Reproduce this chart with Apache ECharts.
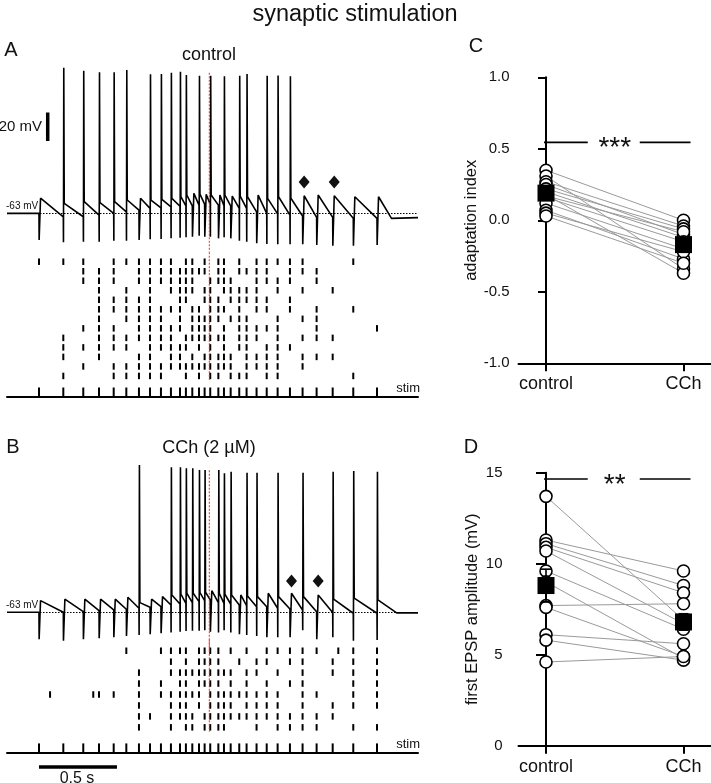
<!DOCTYPE html>
<html><head><meta charset="utf-8">
<script src="https://cdn.jsdelivr.net/npm/echarts@6/dist/echarts.min.js"></script>
<style>html,body{margin:0;padding:0;background:#fff}#c{width:711px;height:783px}</style>
</head><body><div id="c"></div>
<script>
// ---------- data ----------
const stimTimes = [0,156,284,385,479,560,641,712,782,846,904,942,983,1026,1062,1098,1150,1186,1229,1284,1331,1395,1460,1530,1609,1690,1780,1883,2015,2167];
const markerTime = 1092;

// Panel A (control) example trace, mV
const spikeStimsA = [1,2,3,4,5,7,8,9,10,11,13,15,17,19,20,22,23,24];
const spikePeaksA = [39.6,37.5,36.3,36.3,37.9,34.9,35.1,36.1,36.8,34.4,33.9,33.9,33.6,33.9,35.1,33.9,34.1,33.6];
const troughA = [-63,-65.4,-65.4,-64.2,-63,-61.9,-60.7,-59.5,-59.1,-58.4,-58,-57.7,-57.7,-57.2,-56.5,-56.5,-57.2,-57.7,-57.7,-59.5,-59.5,-61.9,-63,-63.4,-64.2,-64.9,-65.8,-65.8,-66.5,-66.5];
const epspPeakA = [-52.3,-56,-54.8,-55.5,-54.8,-53.6,-52.4,-53.6,-53.1,-52.4,-51.3,-50.1,-48.9,-49.4,-49.6,-50.1,-50.1,-50.1,-50.8,-50.8,-51.3,-50.1,-52.4,-51.3,-52.4,-50.6,-50.1,-50.6,-51.3,-51.3];
const artifactA = [-81.8,-83.4,-83,-83,-82.3,-82.3,-81.8,-81.3,-81.1,-80.6,-80.2,-79.9,-79.5,-78.8,-79.5,-79.5,-80.6,-79.9,-80.6,-82.3,-83,-84.1,-84.6,-84.8,-84.8,-84.8,-85.3,-85.8,-85.8,-85.3];
const tailA = [[2260,-66.5],[2430,-66]];
const diamondStimsA = [25,27];

// Panel B (CCh) example trace, mV
const spikeStimsB = [6,9,10,11,12,13,14,16,17,18,20,21,23,25,27,28,29];
const spikePeaksB = [40.7,39.1,39.1,38.4,38.4,37.2,37.2,37.2,34.9,36,35.3,35.3,35.3,35.3,36,36.5,36];
const troughB = [-63,-63,-62.6,-61.9,-61.4,-60.9,-60.2,-59.5,-59.1,-57.9,-57.2,-56.7,-56.2,-55.5,-54.8,-54.3,-56.2,-56.7,-57.2,-57.9,-58.4,-59.1,-59.1,-60.2,-60.7,-61.4,-62.6,-63.2,-63.7,-63.7];
const epspPeakB = [-54.8,-53.8,-53.8,-53.8,-53.8,-52.4,-56.2,-53.8,-52,-50.8,-50.3,-49.6,-49.6,-49.2,-48.9,-47.8,-49.6,-50.3,-50.8,-50.8,-51.5,-52,-49.6,-52,-49.6,-52,-50.8,-53.8,-53.1,-54.3];
const artifactB = [-82,-83,-82,-81.3,-80.6,-79.7,-79,-78.4,-77.8,-77.3,-76.7,-76.2,-76,-76,-75.7,-76.7,-77.3,-75.7,-77.3,-78.4,-79,-79.7,-80.6,-80.6,-80.6,-75.7,-82,-80.6,-83,-82.5];
const tailB = [[2293,-63.4],[2430,-63.4]];
const diamondStimsB = [24,26];
const diamondLevel = -41;

// Raster plots: stimulus numbers that evoked a spike, per trial; plus spontaneous spike times (ms)
const rasterA = [
  [0,1,2,4,5,6,7,8,9,11,12,14,16,17,19,21,22,23,24,25,28],
  [2,3,4,6,7,8,9,10,11,12,13,14,16,17,19,20,21,22,24,25,26],
  [2,3,4,6,7,8,9,10,11,12,15,16,17,18,21,22,23,24,26],
  [3,5,7,9,10,11,12,14,15,17,18,19,20,21,23,25,27],
  [3,4,5,6,7,10,11,14,15,16,18,19,20,21,22,24],
  [3,4,5,6,7,8,9,10,12,13,15,16,17,19,21,22,24,26,28],
  [3,5,6,7,8,10,12,13,14,15,16,18,19,20,23,25,26],
  [2,3,4,6,7,8,9,10,12,13,14,15,17,19,20,21,22,23,26,29],
  [1,3,4,5,6,7,8,9,11,12,13,14,15,16,17,19,20,21,23,25,26,27],
  [1,2,3,4,5,7,8,9,10,11,13,15,17,19,20,22,23,24],
  [1,3,6,7,9,10,12,14,15,16,17,18,20,21,22,23,25,26,27],
  [2,4,5,6,7,8,9,10,11,12,13,14,15,16,17,18,20,21,22,23,25],
  [1,4,5,6,7,8,11,13,15,16,18,19,20,22,23,28]
];
const spontA = [[],[],[],[],[],[],[],[],[],[],[],[],[]];
const rasterB = [
  [5,8,9,10,11,13,14,15,16,18,20,22,23,24,25,26,28,29],
  [9,11,13,14,15,16,19,21,22,24,25,27,28,29],
  [6,9,10,11,12,13,14,15,16,17,18,20,21,23,25,27,28,29],
  [6,8,10,11,13,14,15,16,18,20,22,24,25,28,29],
  [3,4,6,8,9,10,11,12,13,15,16,17,18,19,20,21,22,23,25,26,28,29],
  [6,9,10,11,13,15,16,17,18,20,21,22,23,25,27,28,29],
  [6,7,9,10,11,12,14,15,16,17,18,19,20,21,22,23,24,25,26,27],
  [6,9,11,12,14,15,16,17,21,23,24,25,26,28,29]
];
const spontB = [[1919],[],[],[],[71,348],[],[],[]];

// Panel C: adaptation index (paired)
const conditions = ['control','CCh'];
const ctrlC = [0.35,0.31,0.27,0.25,0.22,0.20,0.18,0.17,0.16,0.12,0.07,0.05,0.03];
const cchC  = [0.00,-0.34,-0.04,-0.10,-0.06,-0.12,-0.37,-0.08,-0.15,-0.20,-0.27,-0.22,-0.30];
const meanC = [0.19,-0.17];
const semC  = [0.03,0.035];
const sigC  = {level:0.545, label:'***'};

// Panel D: first EPSP amplitude (mV)
const ctrlD = [13.7,11.3,11.1,10.9,10.7,9.6,9.0,7.7,7.6,6.1,5.8,4.6];
const cchD  = [6.9,9.6,8.8,8.4,6.7,6.4,4.8,7.8,4.9,5.6,4.7,4.9];
const meanD = [8.8,6.8];
const semD  = [0.9,0.45];
const sigD  = {level:14.65, label:'**'};

const scaleBarMs = 500, scaleBarMv = 20;

// ---------- build ----------
const FONT = 'Liberation Sans, Arial, sans-serif';
const TMIN = -205, TMAX = 2430;

function buildTrace(trough, peak, art, spikeIdx, spikePk, tail) {
  const sp = {}; spikeIdx.forEach((s,k)=>{sp[s]=spikePk[k];});
  const pts = [[TMIN, trough[0]]];
  stimTimes.forEach((t,i)=>{
    pts.push([t, trough[i]]);
    pts.push([t+1, art[i]]);
    if (sp[i] !== undefined) { pts.push([t+3, sp[i]]); pts.push([t+6, peak[i]]); }
    else { pts.push([t+10, peak[i]]); }
  });
  tail.forEach(p=>pts.push(p));
  return pts;
}
function rasterPts(rows, spont) {
  const out = [];
  rows.forEach((r,ri)=>{ r.forEach(s=>out.push([stimTimes[s], ri+1])); spont[ri].forEach(t=>out.push([t, ri+1])); });
  return out;
}

const traceA = buildTrace(troughA, epspPeakA, artifactA, spikeStimsA, spikePeaksA, tailA);
const traceB = buildTrace(troughB, epspPeakB, artifactB, spikeStimsB, spikePeaksB, tailB);

const grids = [
  {left:7, width:411, top:60, height:191.7},      // 0 trace A
  {left:7, width:411, top:252.2, height:144.3},   // 1 raster A
  {left:7, width:411, top:458.9, height:191.7},   // 2 trace B
  {left:7, width:411, top:639.8, height:112.6},   // 3 raster B
  {left:7, width:411, top:762, height:10},        // 4 scale bar
  {left:518.5, width:192.6, top:77.3, height:286},// 5 C
  {left:518.5, width:192.6, top:472.7, height:273}// 6 D
];
const hiddenX = i => ({type:'value', gridIndex:i, min:TMIN, max:TMAX, show:false});
const xAxes = [
  hiddenX(0),
  {type:'value', gridIndex:1, min:TMIN, max:TMAX, axisLine:{show:true, onZero:false, lineStyle:{color:'#000', width:2}}, axisTick:{show:false}, axisLabel:{show:false}, splitLine:{show:false}},
  hiddenX(2),
  {type:'value', gridIndex:3, min:TMIN, max:TMAX, axisLine:{show:true, onZero:false, lineStyle:{color:'#000', width:2}}, axisTick:{show:false}, axisLabel:{show:false}, splitLine:{show:false}},
  hiddenX(4)
];
const catAxis = gi => ({type:'value', gridIndex:gi, min:-0.2, max:1.2,
  axisLine:{show:true, onZero:false, lineStyle:{color:'#000', width:2}},
  axisTick:{show:true, customValues:[0,1], length:8, lineStyle:{color:'#000', width:2}},
  axisLabel:{show:true, customValues:[0,1], formatter:v=>conditions[Math.round(v)], fontSize:18, color:'#111', margin:12, fontFamily:FONT},
  splitLine:{show:false}});
xAxes.push(catAxis(5), catAxis(6));

const yAxes = [
  {type:'value', gridIndex:0, min:-90, max:45, show:false},
  {type:'value', gridIndex:1, min:0, max:15.16, inverse:true, show:false},
  {type:'value', gridIndex:2, min:-90, max:45, show:false},
  {type:'value', gridIndex:3, min:0, max:10.29, inverse:true, show:false},
  {type:'value', gridIndex:4, min:0, max:1, show:false},
  {type:'value', gridIndex:5, min:-1, max:1, interval:0.5,
   axisLine:{show:true, lineStyle:{color:'#000', width:2}}, axisTick:{show:true, length:8, lineStyle:{color:'#000', width:2}},
   axisLabel:{formatter:v=>v.toFixed(1), fontSize:15, color:'#111', margin:9, fontFamily:FONT}, splitLine:{show:false},
   name:'adaptation index', nameLocation:'middle', nameGap:39, nameTextStyle:{fontSize:16.5, color:'#111', fontFamily:FONT}},
  {type:'value', gridIndex:6, min:0, max:15, interval:5,
   axisLine:{show:true, lineStyle:{color:'#000', width:2}}, axisTick:{show:true, length:10, lineStyle:{color:'#000', width:2}},
   axisLabel:{fontSize:15, color:'#111', margin:16, fontFamily:FONT}, splitLine:{show:false},
   name:'first EPSP amplitude (mV)', nameLocation:'middle', nameGap:38, nameTextStyle:{fontSize:16.5, color:'#111', fontFamily:FONT}}
];

const series = [];
const blk = '#000';
function traceSeries(gi, data) {
  series.push({type:'line', xAxisIndex:gi, yAxisIndex:gi, data, symbol:'none', animation:false,
    lineStyle:{color:blk, width:1.6}, z:3,
    markLine:{silent:true, symbol:'none', label:{show:false}, lineStyle:{color:'#000', width:1, type:[1.5,1.5]},
      data:[{yAxis:-63}]}});
}
traceSeries(0, traceA);
traceSeries(2, traceB);

// diamonds
[[0, diamondStimsA],[2, diamondStimsB]].forEach(([gi, ds])=>{
  series.push({type:'scatter', xAxisIndex:gi, yAxisIndex:gi, symbol:'diamond', symbolSize:[11,13],
    itemStyle:{color:'#111', opacity:1}, data: ds.map(s=>[stimTimes[s]+10, diamondLevel]), z:4, animation:false});
});

// red dotted time marker
[[0,[36,-90]],[1,[0,13.4]],[2,[37,-90]],[3,[0,8.4]]].forEach(([gi,r])=>{
  series.push({type:'line', xAxisIndex:gi, yAxisIndex:gi, symbol:'none', animation:false, z:10,
    lineStyle:{color:'#ff2020', width:1, type:[2,1.5]}, data:[[markerTime,r[0]],[markerTime,r[1]]]});
});

// rasters
[[1,rasterA,spontA,15.16],[3,rasterB,spontB,10.29]].forEach(([gi,rows,sp,stimRow])=>{
  series.push({type:'scatter', xAxisIndex:gi, yAxisIndex:gi, symbol:'rect', symbolSize:[2,6.5],
    itemStyle:{color:'#000', opacity:1}, data:rasterPts(rows, sp), animation:false});
  series.push({type:'scatter', xAxisIndex:gi, yAxisIndex:gi, symbol:'rect', symbolSize:[2,9], symbolOffset:[0,-4.5],
    itemStyle:{color:'#000', opacity:1}, data:stimTimes.map(t=>[t, stimRow]), animation:false});
});

// scale bars
series.push({type:'line', xAxisIndex:4, yAxisIndex:4, symbol:'none', animation:false,
  lineStyle:{color:'#000', width:3.5}, data:[[0,0.5],[scaleBarMs,0.5]]});
series.push({type:'line', xAxisIndex:0, yAxisIndex:0, symbol:'none', animation:false,
  lineStyle:{color:'#000', width:3.5}, data:[[56,-12],[56,-12+scaleBarMv]]});

// paired panels
function pairedPanel(gi, ctrl, cch, mean, sem, sig) {
  ctrl.forEach((c,i)=>{
    series.push({type:'line', xAxisIndex:gi, yAxisIndex:gi, symbol:'none', animation:false, silent:true,
      lineStyle:{color:'#9a9a9a', width:1}, data:[[0,c],[1,cch[i]]], z:2});
  });
  const circ = ctrl.map(v=>[0,v]).concat(cch.map(v=>[1,v]));
  series.push({type:'scatter', xAxisIndex:gi, yAxisIndex:gi, symbol:'circle', symbolSize:12, animation:false,
    itemStyle:{color:'#fff', borderColor:'#000', borderWidth:1.6, opacity:1}, data:circ, z:3});
  series.push({type:'custom', xAxisIndex:gi, yAxisIndex:gi, animation:false, z:4,
    data: mean.map((m,i)=>[i,m,sem[i]]),
    renderItem:(p,api)=>{
      const x=api.value(0), m=api.value(1), s=api.value(2);
      const a=api.coord([x,m+s]), b=api.coord([x,m-s]);
      const st={stroke:'#000', lineWidth:1.6};
      return {type:'group', children:[
        {type:'line', shape:{x1:a[0],y1:a[1],x2:b[0],y2:b[1]}, style:st},
        {type:'line', shape:{x1:a[0]-5,y1:a[1],x2:a[0]+5,y2:a[1]}, style:st},
        {type:'line', shape:{x1:b[0]-5,y1:b[1],x2:b[0]+5,y2:b[1]}, style:st}]};
    }});
  series.push({type:'scatter', xAxisIndex:gi, yAxisIndex:gi, symbol:'rect', symbolSize:17, animation:false,
    itemStyle:{color:'#000', opacity:1}, data:mean.map((m,i)=>[i,m]), z:5});
  series.push({type:'custom', xAxisIndex:gi, yAxisIndex:gi, animation:false, z:6,
    data:[[0,1,sig.level]],
    renderItem:(p,api)=>{
      const a=api.coord([api.value(0),api.value(2)]), b=api.coord([api.value(1),api.value(2)]);
      const mid=(a[0]+b[0])/2; const st={stroke:'#000', lineWidth:1.6};
      return {type:'group', children:[
        {type:'line', shape:{x1:a[0]-2,y1:a[1],x2:mid-27,y2:a[1]}, style:st},
        {type:'line', shape:{x1:mid+25,y1:a[1],x2:b[0]+7,y2:a[1]}, style:st},
        {type:'text', x:mid, y:a[1]+6, style:{text:sig.label, fontSize:28, fontFamily:FONT, fill:'#111', align:'center', verticalAlign:'middle'}}]};
    }});
}
pairedPanel(5, ctrlC, cchC, meanC, semC, sigC);
pairedPanel(6, ctrlD, cchD, meanD, semD, sigD);

const txt = (text,x,y,size,align='center',extra={}) => ({type:'text', x, y, style:Object.assign({text, fontSize:size, fontFamily:FONT, fill:'#111', align, verticalAlign:'middle'}, extra)});
const graphic = [
  txt('synaptic stimulation',355,15,23.5),
  txt('A',11,50,20), txt('B',13,447,20), txt('C',476,46,20), txt('D',471,447,20),
  txt('control',209,55,18), txt('CCh (2 µM)',209,448,18),
  txt('-63 mV',6,206,10,'left'), txt('-63 mV',6,605,10,'left'),
  txt('20 mV',42,127,15,'right'),
  txt('stim',420,388,13,'right'), txt('stim',420,744,13,'right'),
  txt('0.5 s',77,779,16)
];

const chart = echarts.init(document.getElementById('c'), null, {renderer:'canvas'});
chart.setOption({animation:false, backgroundColor:'#fff', grid:grids, xAxis:xAxes, yAxis:yAxes, series, graphic});
</script></body></html>
